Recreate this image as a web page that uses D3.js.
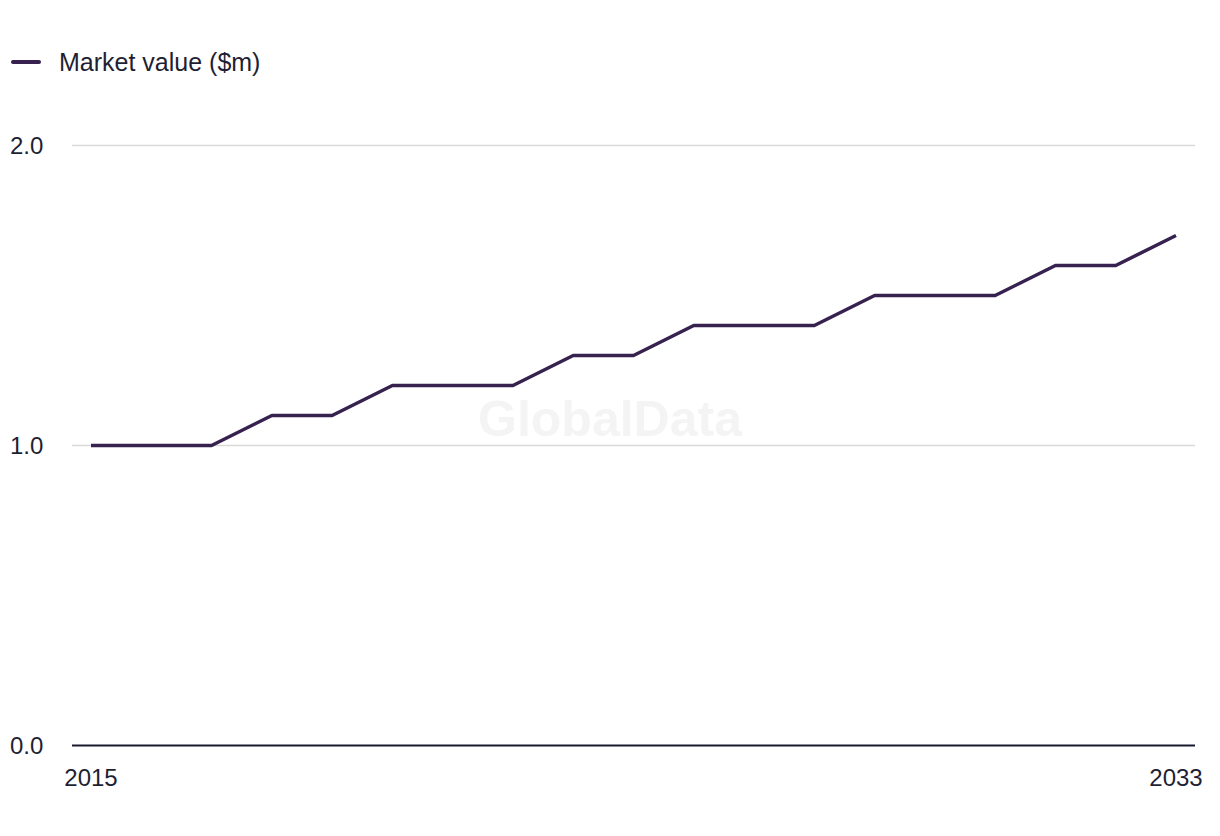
<!DOCTYPE html>
<html>
<head>
<meta charset="utf-8">
<script src="https://cdn.jsdelivr.net/npm/d3@7"></script>
<style>
  html, body { margin: 0; padding: 0; background: #ffffff; }
  svg { display: block; font-family: "Liberation Sans", Arial, sans-serif; }
</style>
</head>
<body>
<svg id="chart" width="1220" height="836"></svg>
<script>
const years = [2015, 2016, 2017, 2018, 2019, 2020, 2021, 2022, 2023, 2024, 2025, 2026, 2027, 2028, 2029, 2030, 2031, 2032, 2033];
const marketValue = [1.0, 1.0, 1.0, 1.1, 1.1, 1.2, 1.2, 1.2, 1.3, 1.3, 1.4, 1.4, 1.4, 1.5, 1.5, 1.5, 1.6, 1.6, 1.7];
const yTicks = [0, 1, 2];
const xTickLabels = [2015, 2033];
const seriesName = "Market value ($m)";

const svg = d3.select("#chart");
const textColor = "#1f1f33";
const lineColor = "#36214f";

const x = d3.scaleLinear().domain([2015, 2033]).range([91, 1176]);
const y = d3.scaleLinear().domain([0, 2]).range([745.5, 145.5]);

// watermark
svg.append("text")
  .attr("x", 610).attr("y", 436)
  .attr("text-anchor", "middle")
  .attr("font-size", 50).attr("font-weight", "bold")
  .attr("fill", "#f4f4f4")
  .text("GlobalData");

// gridlines
svg.append("g").selectAll("line")
  .data(yTicks.filter(d => d !== 0))
  .join("line")
  .attr("x1", 72).attr("x2", 1195)
  .attr("y1", d => y(d)).attr("y2", d => y(d))
  .attr("stroke", "#d9d9d9").attr("stroke-width", 1.5);

// baseline axis
svg.append("line")
  .attr("x1", 72).attr("x2", 1195)
  .attr("y1", y(0)).attr("y2", y(0))
  .attr("stroke", "#1a1a2e").attr("stroke-width", 2);

// y labels
svg.append("g").selectAll("text")
  .data(yTicks)
  .join("text")
  .attr("x", 10).attr("y", d => y(d))
  .attr("dy", "0.35em")
  .attr("font-size", 24)
  .attr("fill", textColor)
  .text(d => d3.format(".1f")(d));

// x labels
svg.append("g").selectAll("text")
  .data(xTickLabels)
  .join("text")
  .attr("x", d => x(d)).attr("y", 786)
  .attr("text-anchor", "middle")
  .attr("font-size", 24)
  .attr("fill", textColor)
  .text(d => d);

// line
const line = d3.line()
  .x((d, i) => x(years[i]))
  .y(d => y(d));

svg.append("path")
  .datum(marketValue)
  .attr("d", line)
  .attr("fill", "none")
  .attr("stroke", lineColor)
  .attr("stroke-width", 3.5)
  .attr("stroke-linejoin", "round");

// legend
svg.append("line")
  .attr("x1", 13).attr("x2", 39)
  .attr("y1", 62).attr("y2", 62)
  .attr("stroke", lineColor).attr("stroke-width", 4)
  .attr("stroke-linecap", "round");
svg.append("text")
  .attr("x", 59).attr("y", 62)
  .attr("dy", "0.35em")
  .attr("font-size", 25)
  .attr("fill", textColor)
  .text(seriesName);
</script>
</body>
</html>
